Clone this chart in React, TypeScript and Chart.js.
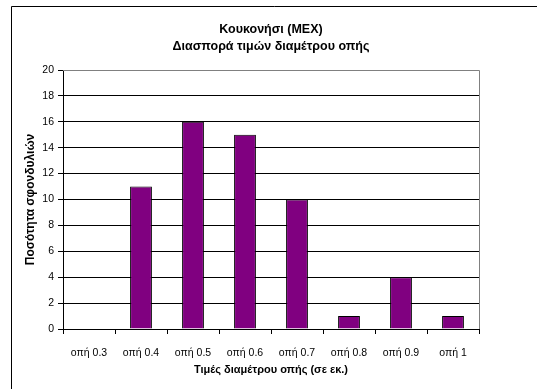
import React, { useEffect, useRef } from "react";
import { Chart, registerables } from "chart.js";

Chart.register(...registerables);

const categories = ["οπή 0.3", "οπή 0.4", "οπή 0.5", "οπή 0.6", "οπή 0.7", "οπή 0.8", "οπή 0.9", "οπή 1"];
const counts = [0, 11, 16, 15, 10, 1, 4, 1];
const titleLines = ["Κουκονήσι (ΜΕΧ)", "Διασπορά τιμών διαμέτρου οπής"];
const xTitle = "Τιμές διαμέτρου οπής (σε εκ.)";
const yTitle = "Ποσότητα σφονδυλιών";

const FONT = "'Liberation Sans', Arial, sans-serif";

const framePlugin = {
  id: "frame",
  beforeDraw(chart: any) {
    const { ctx, width, height } = chart;
    ctx.save();
    ctx.fillStyle = "#fff";
    ctx.fillRect(0, 0, width, height);
    ctx.strokeStyle = "#000";
    ctx.lineWidth = 1;
    ctx.beginPath();
    ctx.moveTo(11.5, height);
    ctx.lineTo(11.5, 6.5);
    ctx.lineTo(width, 6.5);
    ctx.stroke();
    ctx.restore();
  },
  afterDraw(chart: any) {
    const { ctx, chartArea } = chart;
    ctx.save();
    ctx.strokeStyle = "#808080";
    ctx.lineWidth = 1;
    ctx.beginPath();
    ctx.moveTo(chartArea.left, chartArea.top + 0.5);
    ctx.lineTo(chartArea.right + 0.5, chartArea.top + 0.5);
    ctx.lineTo(chartArea.right + 0.5, chartArea.bottom);
    ctx.stroke();
    // chart title, centred over the plot area
    ctx.fillStyle = "#000";
    ctx.font = "bold 12.5px " + FONT;
    ctx.textAlign = "center";
    ctx.textBaseline = "middle";
    const cx = (chartArea.left + chartArea.right) / 2;
    titleLines.forEach((t, i) => ctx.fillText(t, cx, 29.5 + i * 17));
    ctx.restore();
  },
};

export default function App() {
  const ref = useRef<HTMLCanvasElement | null>(null);
  useEffect(() => {
    if (!ref.current) return;
    const chart = new Chart(ref.current, {
      type: "bar",
      data: {
        labels: categories,
        datasets: [
          {
            data: counts,
            backgroundColor: "#800080",
            borderColor: "#000",
            borderWidth: 1,
            categoryPercentage: 1,
            barPercentage: 0.42,
          },
        ],
      },
      options: {
        responsive: false,
        animation: false,
        layout: { padding: { left: 0, right: 58, top: 70, bottom: 0 } },
        plugins: {
          legend: { display: false },
          tooltip: { enabled: false },
          title: { display: false },
        },
        scales: {
          x: {
            afterFit(scale: any) {
              scale.height = 60;
            },
            grid: {
              display: true,
              drawOnChartArea: false,
              drawTicks: true,
              tickLength: 5,
              color: "#000",
              offset: true,
            },
            border: { display: true, color: "#000" },
            ticks: {
              color: "#000",
              font: { family: FONT, size: 10.5 },
              padding: 12.5,
              maxRotation: 0,
              autoSkip: false,
            },
            title: {
              display: true,
              text: xTitle,
              color: "#000",
              font: { family: FONT, size: 11, weight: "bold" },
              padding: { top: 0, bottom: 12 },
            },
          },
          y: {
            min: 0,
            max: 20,
            afterFit(scale: any) {
              scale.width = 63;
            },
            grid: { color: "#000", tickLength: 5, drawTicks: true },
            border: { display: true, color: "#000" },
            ticks: {
              stepSize: 2,
              color: "#000",
              font: { family: FONT, size: 10.5 },
              padding: 4,
            },
            title: {
              display: true,
              text: yTitle,
              color: "#000",
              font: { family: FONT, size: 12, weight: "bold" },
              padding: { top: 23, bottom: 0 },
            },
          },
        },
      },
      plugins: [framePlugin],
    } as any);
    return () => chart.destroy();
  }, []);
  return (
    <div style={{ position: "absolute", left: 0, top: 0, width: 537, height: 389 }}>
      <canvas ref={ref} width={537} height={389} />
    </div>
  );
}
